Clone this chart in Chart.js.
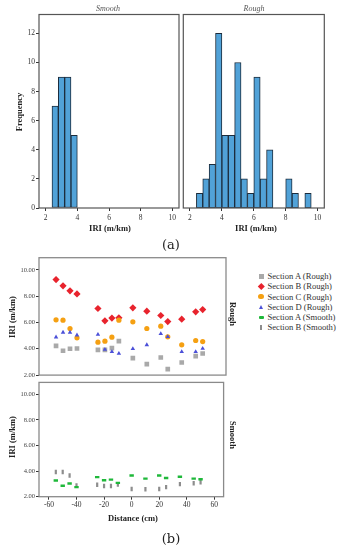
<!DOCTYPE html>
<html>
<head>
<meta charset="utf-8">
<script src="https://cdn.jsdelivr.net/npm/chart.js@4.4.1/dist/chart.umd.min.js"></script>
<style>
  body { margin: 0; background: #fff; width: 343px; height: 550px; position: relative; overflow: hidden; font-family: 'Liberation Serif', serif; }
  .box { position: absolute; }
  .lbl { position: absolute; transform: translate(-50%, -50%); white-space: nowrap; color: #222; }
  .b { font-weight: bold; font-size: 8.5px; }
  .it { font-style: italic; font-size: 8px; color: #555; }
  .big { font-size: 13px; font-family: 'DejaVu Serif', serif; }
  #legend { position: absolute; left: 256px; top: 271px; font-size: 8.6px; color: #333; }
  #legend div { height: 10.3px; line-height: 10.3px; display: flex; align-items: center; }
  #legend .mk { width: 10px; height: 10px; display: flex; align-items: center; justify-content: center; margin-right: 1.5px; }
</style>
</head>
<body>
<div class="box" style="left:0;top:0;width:182px;height:224px"><canvas id="histSmooth"></canvas></div>
<div class="box" style="left:170px;top:0;width:173px;height:224px"><canvas id="histRough"></canvas></div>
<div class="box" style="left:0;top:250px;width:230px;height:130px"><canvas id="scatRough"></canvas></div>
<div class="box" style="left:0;top:376px;width:230px;height:174px"><canvas id="scatSmooth"></canvas></div>

<div class="lbl it" style="left:108px;top:8px">Smooth</div>
<div class="lbl it" style="left:254px;top:8px">Rough</div>
<div class="lbl b" style="left:19px;top:112px;transform:translate(-50%,-50%) rotate(-90deg)">Frequency</div>
<div class="lbl b" style="left:110px;top:228px">IRI (m/km)</div>
<div class="lbl b" style="left:256px;top:228px">IRI (m/km)</div>
<div class="lbl big" style="left:171px;top:244px">(a)</div>

<div class="lbl b" style="left:12px;top:317px;transform:translate(-50%,-50%) rotate(-90deg)">IRI (m/km)</div>
<div class="lbl b" style="left:12px;top:437px;transform:translate(-50%,-50%) rotate(-90deg)">IRI (m/km)</div>
<div class="lbl b" style="left:233px;top:314px;transform:translate(-50%,-50%) rotate(90deg)">Rough</div>
<div class="lbl b" style="left:233px;top:435px;transform:translate(-50%,-50%) rotate(90deg)">Smooth</div>
<div class="lbl b" style="left:133px;top:518px">Distance (cm)</div>
<div class="lbl big" style="left:171px;top:538px">(b)</div>
<div id="legend"></div>

<script>
// histogram bins (centres, width 0.4) and counts
const binCenters = [2.6, 3.0, 3.4, 3.8, 4.2, 4.6, 5.0, 5.4, 5.8, 6.2, 6.6, 7.0, 7.4, 7.8, 8.2, 8.6, 9.0, 9.4];
const smoothCounts = [7, 9, 9, 5];
const roughCounts = [1, 2, 3, 12, 5, 5, 10, 2, 1, 9, 2, 4, 0, 0, 2, 1, 0, 1];
const iriTicks = [2, 4, 6, 8, 10];
const freqTicks = [0, 2, 4, 6, 8, 10, 12];

// scatter data
const distances = [-55, -50, -45, -40, -25, -20, -15, -10, 0, 10, 20, 25, 35, 45, 50];
const secARough = [4.22, 3.85, 4.0, 4.02, 3.92, 3.92, 4.05, 4.58, 3.29, 2.83, 3.34, 2.46, 2.96, 3.44, 3.64];
const secBRough = [9.26, 8.78, 8.40, 8.17, 7.06, 6.12, 6.33, 6.35, 7.11, 6.86, 6.53, 6.07, 6.25, 6.81, 6.98];
const secCRough = [6.2, 6.17, 5.54, 4.83, 4.5, 4.58, 4.88, 6.17, 6.05, 5.54, 5.72, 4.91, 4.30, 4.63, 4.55];
const secDRough = [4.88, 5.24, 5.24, 5.04, 5.08, 3.94, 3.77, 3.64, 4.0, 4.3, 5.14, 4.91, 3.77, 3.77, 4.02];
const secASmooth = [3.26, 2.86, 3.03, 2.75, 3.53, 3.28, 3.33, 3.08, 3.65, 3.41, 3.65, 3.46, 3.56, 3.41, 3.36];
const secBSmooth = [3.93, 3.93, 3.65, 2.88, 2.93, 2.83, 2.83, 2.95, 2.6, 2.58, 2.6, 2.75, 2.98, 3.05, 3.13];
const distTicks = [-60, -40, -20, 0, 20, 40, 60];
const iriValTicks = [2, 4, 6, 8, 10];
const seriesNames = ['Section A (Rough)', 'Section B (Rough)', 'Section C (Rough)', 'Section D (Rough)', 'Section A (Smooth)', 'Section B (Smooth)'];

Chart.defaults.font.family = "'Liberation Serif', serif";
Chart.defaults.animation = false;
Chart.defaults.maintainAspectRatio = false;
Chart.defaults.plugins.legend.display = false;
Chart.defaults.plugins.tooltip.enabled = false;

const framePlugin = {
  id: 'frame',
  afterDraw(chart, args, opts) {
    const a = chart.chartArea, ctx = chart.ctx;
    ctx.save();
    ctx.strokeStyle = opts.color || '#444';
    ctx.lineWidth = opts.width || 1;
    ctx.strokeRect(a.left, a.top, a.right - a.left, a.bottom - a.top);
    ctx.restore();
  }
};
Chart.register(framePlugin);

const setTicks = vals => s => { s.ticks = vals.map(v => ({ value: v })); };
const tickGrid = { drawOnChartArea: false, tickLength: 3, color: '#333' };

function histChart(id, counts, showY, pad) {
  new Chart(document.getElementById(id), {
    type: 'bar',
    data: {
      datasets: [{
        data: counts.map((c, i) => ({ x: binCenters[i], y: c || null })),
        backgroundColor: '#51a2d8',
        borderColor: '#1c2c3c',
        borderWidth: 1,
        borderSkipped: false,
        barPercentage: 1,
        categoryPercentage: 1
      }]
    },
    options: {
      layout: { padding: pad },
      plugins: { frame: { color: '#555', width: 1.2 } },
      scales: {
        x: {
          type: 'linear', offset: false, min: 1.58, max: 10.42,
          afterBuildTicks: setTicks(iriTicks),
          afterFit: s => { s.height = 16; },
          grid: { ...tickGrid, offset: false }, border: { display: false },
          ticks: { font: { size: 7.5 }, color: '#333', padding: 2.5, maxRotation: 0 }
        },
        y: {
          display: showY, min: 0, max: 13.3,
          afterBuildTicks: setTicks(freqTicks),
          afterFit: s => { if (showY) s.width = 39; },
          grid: tickGrid, border: { display: false },
          ticks: { font: { size: 7.5 }, color: '#333', padding: 1 }
        }
      }
    }
  });
}

histChart('histSmooth', smoothCounts, true, { top: 14.5, right: 3, left: 0, bottom: 0 });
histChart('histRough', roughCounts, false, { top: 14.5, right: 18.7, left: 13.3, bottom: 0 });

const pts = arr => distances.map((x, i) => ({ x, y: arr[i] }));

function scatterChart(id, datasets, showX, pad) {
  new Chart(document.getElementById(id), {
    type: 'scatter',
    data: { datasets },
    options: {
      layout: { padding: pad },
      plugins: { frame: { color: '#8a8a8a', width: 1.3 } },
      scales: {
        x: {
          type: 'linear', display: showX, min: -67.2, max: 66.7,
          afterBuildTicks: setTicks(distTicks),
          afterFit: s => { if (showX) s.height = 53.3; },
          grid: tickGrid, border: { display: false },
          ticks: { font: { size: 7.5 }, color: '#333', padding: 1, maxRotation: 0 }
        },
        y: {
          min: 2, max: 10.92,
          afterBuildTicks: setTicks(iriValTicks),
          afterFit: s => { s.width = 39; },
          grid: tickGrid, border: { display: false },
          ticks: { font: { size: 6.5 }, color: '#444', padding: 1, callback: v => v.toFixed(2) }
        }
      }
    }
  });
}

scatterChart('scatRough', [
  { label: seriesNames[3], data: pts(secDRough), pointStyle: 'triangle', radius: 2.6, backgroundColor: '#4b50d8', borderColor: '#4b50d8', borderWidth: 0 },
  { label: seriesNames[2], data: pts(secCRough), pointStyle: 'circle', radius: 2.6, backgroundColor: '#f5a012', borderColor: '#f5a012', borderWidth: 0 },
  { label: seriesNames[1], data: pts(secBRough), pointStyle: 'rectRot', radius: 3.6, backgroundColor: '#e8232d', borderColor: '#e8232d', borderWidth: 0 },
  { label: seriesNames[0], data: pts(secARough), pointStyle: 'rect', radius: 3.3, backgroundColor: '#a9a9a9', borderColor: '#a9a9a9', borderWidth: 0 }
], false, { top: 7.7, right: 4, left: 0, bottom: 4.7 });

scatterChart('scatSmooth', [
  { label: seriesNames[4], data: pts(secASmooth), pointStyle: 'line', radius: 2.2, borderColor: '#1fb83a', borderWidth: 2.4 },
  { label: seriesNames[5], data: pts(secBSmooth), pointStyle: 'line', rotation: 90, radius: 2.2, borderColor: '#8d8d8d', borderWidth: 2.2 }
], true, { top: 2.3, right: 4, left: 0, bottom: 0 });

// legend
const markers = [
  '<span style="width:5px;height:5px;background:#a9a9a9"></span>',
  '<span style="width:4.6px;height:4.6px;background:#e8232d;transform:rotate(45deg)"></span>',
  '<span style="width:5.5px;height:5.5px;border-radius:50%;background:#f5a012"></span>',
  '<span style="width:0;height:0;border-left:2.6px solid transparent;border-right:2.6px solid transparent;border-bottom:4.5px solid #4b50d8"></span>',
  '<span style="width:5px;height:2.4px;border-radius:1px;background:#1fb83a"></span>',
  '<span style="width:2.2px;height:5px;background:#8d8d8d"></span>'
];
document.getElementById('legend').innerHTML = seriesNames
  .map((n, i) => '<div><span class="mk">' + markers[i] + '</span>' + n + '</div>').join('');
</script>
</body>
</html>
